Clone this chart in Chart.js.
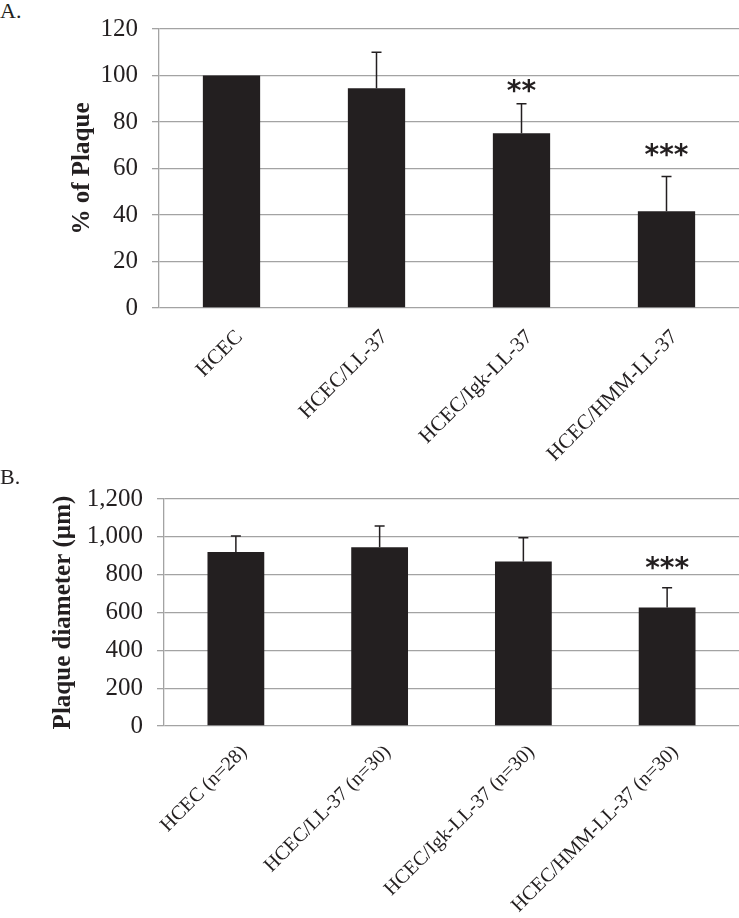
<!DOCTYPE html>
<html>
<head>
<meta charset="utf-8">
<script src="https://cdn.jsdelivr.net/npm/chart.js@4/dist/chart.umd.min.js"></script>
<style>
  html, body { margin: 0; padding: 0; background: #fff; }
  body { width: 739px; height: 918px; position: relative; overflow: hidden; }
  .panel { position: absolute; left: 0; }
  .tag { position: absolute; left: 0; font-family: "Liberation Serif", "Times New Roman", serif; font-size: 22px; color: #231f20; line-height: 1; }
</style>
</head>
<body>
<div class="tag" id="tagA" style="top:0px;">A.</div>
<div class="panel" style="top:0px;"><canvas id="chartA" width="739" height="470"></canvas></div>
<div class="tag" id="tagB" style="top:466px;">B.</div>
<div class="panel" style="top:470px;"><canvas id="chartB" width="739" height="448"></canvas></div>
<script>
// ---- Data ----
const categoriesA = ["HCEC", "HCEC/LL-37", "HCEC/Igk-LL-37", "HCEC/HMM-LL-37"];
const plaquePercent = [100, 94.5, 75.2, 41.6];
const plaquePercentErr = [0, 15.5, 12.7, 15.0];
const significanceA = ["", "", "**", "***"];
const yTicksA = { min: 0, max: 120, step: 20 };

const categoriesB = ["HCEC (n=28)", "HCEC/LL-37 (n=30)", "HCEC/Igk-LL-37 (n=30)", "HCEC/HMM-LL-37 (n=30)"];
const plaqueDiameter = [920, 945, 869, 627];
const plaqueDiameterErr = [84, 112, 126, 104];
const significanceB = ["", "", "", "***"];
const yTicksB = { min: 0, max: 1200, step: 200 };

const yTitleA = "% of Plaque";
const yTitleB = "Plaque diameter (\u00b5m)";

// ---- Styling ----
const SERIF = '"Liberation Serif", "Times New Roman", serif';
const BAR = '#231f20';
const GRID = '#a3a3a3';

const errorBarPlugin = {
  id: 'errorBars',
  afterDatasetsDraw(chart, args, opts) {
    const ctx = chart.ctx;
    const meta = chart.getDatasetMeta(0);
    const yScale = chart.scales.y;
    const vals = chart.data.datasets[0].data;
    ctx.save();
    ctx.strokeStyle = BAR;
    ctx.lineWidth = 1.5;
    meta.data.forEach((bar, i) => {
      const err = opts.errors[i];
      const x = bar.x;
      const yTop = yScale.getPixelForValue(vals[i] + err);
      const yBar = yScale.getPixelForValue(vals[i]);
      if (err > 0) {
        ctx.beginPath();
        ctx.moveTo(x, yBar);
        ctx.lineTo(x, yTop);
        ctx.moveTo(x - 5, yTop);
        ctx.lineTo(x + 5, yTop);
        ctx.stroke();
      }
      const s = opts.labels[i];
      if (s) {
        ctx.fillStyle = BAR;
        ctx.font = 'bold 28px "DejaVu Sans", sans-serif';
        ctx.textAlign = 'center';
        ctx.textBaseline = 'middle';
        ctx.fillText(s, x, yTop - opts.gaps[i] + 2);
      }
    });
    ctx.restore();
  }
};

// Rotated (45°) category labels, anchored under each category tick
const slantLabelPlugin = {
  id: 'slantLabels',
  afterDraw(chart, args, opts) {
    const ctx = chart.ctx;
    const xs = chart.scales.x;
    ctx.save();
    ctx.fillStyle = '#231f20';
    ctx.font = opts.size + 'px ' + SERIF;
    ctx.textAlign = 'right';
    ctx.textBaseline = 'middle';
    chart.data.labels.forEach((lab, i) => {
      const x = xs.getPixelForTick(i);
      ctx.save();
      ctx.translate(x + 8, xs.top + opts.drop);
      ctx.rotate(-Math.PI / 4);
      ctx.fillText(lab, 0, 0);
      ctx.restore();
    });
    ctx.restore();
  }
};

function makeChart(id, cats, vals, errs, sig, gaps, yt, title, padLeft, padTop, yWidth, xHeight, fmt, labSize, labDrop) {
  return new Chart(document.getElementById(id), {
    type: 'bar',
    data: {
      labels: cats,
      datasets: [{
        data: vals,
        backgroundColor: BAR,
        borderWidth: 0,
        categoryPercentage: 1.0,
        barPercentage: 0.395
      }]
    },
    plugins: [errorBarPlugin, slantLabelPlugin],
    options: {
      responsive: false,
      animation: false,
      devicePixelRatio: 1,
      layout: { padding: { left: padLeft, top: padTop, right: 0, bottom: 0 } },
      plugins: {
        legend: { display: false },
        tooltip: { enabled: false },
        errorBars: { errors: errs, labels: sig, gaps: gaps },
        slantLabels: { size: labSize, drop: labDrop }
      },
      scales: {
        x: {
          grid: { display: false },
          border: { display: false },
          ticks: { display: false },
          afterFit(scale) { scale.height = xHeight; }
        },
        y: {
          min: yt.min,
          max: yt.max,
          grid: { color: GRID, lineWidth: 1.3, tickLength: 7, drawTicks: true },
          border: { display: true, color: GRID, width: 1.3 },
          ticks: {
            stepSize: yt.step,
            padding: 14,
            color: '#231f20',
            font: { family: SERIF, size: 25 },
            callback: fmt
          },
          title: {
            display: true,
            text: title,
            color: '#231f20',
            padding: { top: 6, bottom: 0 },
            font: { family: SERIF, size: 25, weight: 'bold' }
          },
          afterFit(scale) { scale.width = yWidth; }
        }
      }
    }
  });
}

makeChart('chartA', categoriesA, plaquePercent, plaquePercentErr, significanceA, [0, 0, 13, 22],
  yTicksA, yTitleA, 62, 25, 97, 162, v => String(v), 21, 26);
makeChart('chartB', categoriesB, plaqueDiameter, plaqueDiameterErr, significanceB, [0, 0, 0, 20],
  yTicksB, yTitleB, 43, 28, 121, 192, v => v.toLocaleString('en-US'), 20, 23);
</script>
</body>
</html>
